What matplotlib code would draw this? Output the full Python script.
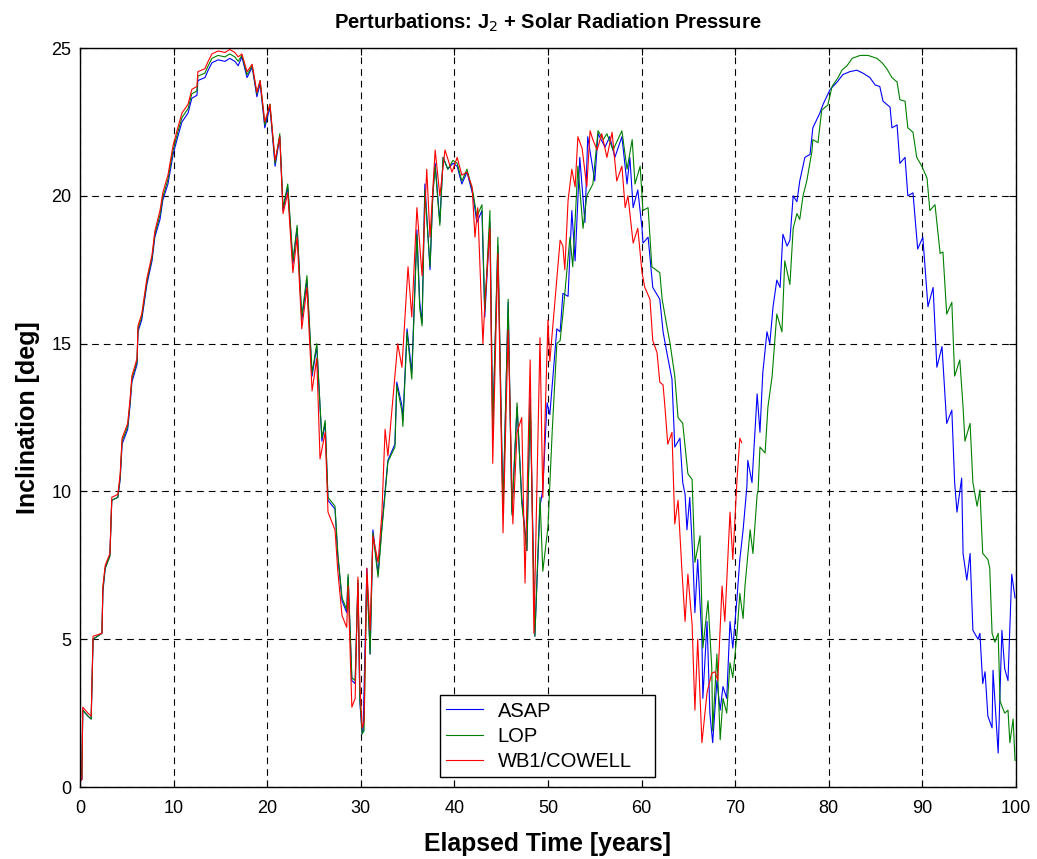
import matplotlib
matplotlib.use("Agg")
import matplotlib.pyplot as plt

# ASAP (blue) - elapsed years / inclination deg
t_asap = [0.0, 0.2, 0.3, 0.85, 1.2, 1.4, 2.35, 2.45, 2.7, 3.2, 3.4, 4.05, 4.3, 4.5, 5.1, 5.35, 5.55, 6.1, 6.2, 6.6,
          7.15, 7.7, 8.0, 8.55, 8.85, 9.4, 9.95, 10.45, 10.9, 11.55, 11.95, 12.5, 12.6, 13.35, 13.7, 14.1, 14.75, 15.5,
          16.0, 16.55, 16.9, 17.3, 17.85, 18.4, 18.9, 19.25, 19.75, 20.3, 20.85, 21.35, 21.7, 22.2, 22.75, 23.2, 23.7,
          24.25, 24.8, 25.3, 25.65, 25.85, 26.2, 26.5, 27.25, 27.55, 28.0, 28.5, 28.65, 29.05, 29.4, 29.7, 29.9, 30.15,
          30.25, 30.65, 31.0, 31.3, 31.85, 32.25, 32.6, 32.9, 33.65, 33.85, 34.4, 34.5, 34.95, 35.45, 36.0, 36.3, 36.55,
          36.85, 37.4, 37.7, 37.95, 38.45, 38.8, 39.3, 39.85, 40.3, 40.8, 41.35, 42.0, 42.4, 42.95, 43.25, 43.8, 44.1,
          44.65, 45.2, 45.75, 46.15, 46.7, 47.2, 47.75, 48.1, 48.6, 49.15, 49.45, 49.9, 50.2, 50.95, 51.3, 51.6, 52.15,
          52.55, 52.9, 53.4, 53.95, 54.25, 55.0, 55.35, 56.1, 56.6, 57.15, 57.9, 58.45, 58.75, 59.1, 59.6, 60.05, 60.15,
          60.7, 61.2, 61.95, 62.3, 62.7, 63.25, 63.55, 64.1, 64.4, 64.65, 64.85, 65.15, 65.5, 65.7, 66.0, 66.45, 66.55,
          67.0, 67.3, 67.6, 68.05, 68.4, 68.7, 69.1, 69.45, 69.75, 70.2, 70.5, 70.85, 71.25, 71.35, 71.8, 72.35, 72.65,
          72.95, 73.4, 73.7, 74.05, 74.45, 74.8, 75.1, 75.55, 75.85, 76.2, 76.6, 76.9, 77.45, 78.0, 78.3, 79.05, 79.4,
          80.15, 80.9, 81.5, 82.25, 83.0, 83.65, 84.4, 84.95, 85.45, 85.8, 86.55, 86.75, 87.3, 87.6, 88.15, 88.45, 89.0,
          89.5, 90.05, 90.6, 91.15, 91.55, 92.1, 92.6, 93.15, 93.45, 93.7, 94.2, 94.35, 94.75, 95.1, 95.4, 95.95, 96.15,
          96.45, 96.7, 97.0, 97.45, 97.55, 98.1, 98.5, 98.8, 99.15, 99.55, 99.9]
i_asap = [0.2, 0.25, 2.6, 2.4, 2.3, 5.0, 5.2, 6.6, 7.4, 7.85, 9.7, 9.8, 10.4, 11.6, 12.1, 12.9, 13.7, 14.3, 15.4, 15.8,
          17.0, 17.8, 18.6, 19.2, 19.85, 20.4, 21.4, 22.0, 22.5, 22.8, 23.3, 23.4, 23.9, 24.0, 24.25, 24.5, 24.6, 24.55,
          24.65, 24.55, 24.4, 24.7, 24.0, 24.35, 23.35, 23.8, 22.3, 23.0, 21.0, 22.0, 19.5, 20.3, 17.7, 18.9, 15.8,
          17.15, 13.9, 14.9, 12.85, 11.7, 12.3, 9.7, 9.4, 7.8, 6.3, 5.9, 7.1, 3.6, 3.5, 6.9, 2.9, 1.8,
          1.9, 7.4, 4.5, 8.7, 7.2, 8.8, 10.0, 11.05, 11.6, 13.7, 12.9, 12.4, 15.5, 14.0, 18.85, 16.4, 15.7,
          20.4, 17.5, 20.1, 21.1, 19.1, 21.3, 20.9, 21.1, 21.0, 20.4, 20.8, 20.0, 19.1, 19.5, 15.9, 19.1, 12.1,
          18.3, 9.3, 16.4, 9.3, 12.85, 9.8, 8.0, 13.2, 5.1, 9.5, 10.05, 13.0, 12.6, 15.5, 15.4, 16.7, 16.6,
          19.5, 17.8, 21.3, 19.1, 22.0, 20.5, 22.1, 21.65, 22.0, 21.3, 22.0, 20.4, 21.3, 19.6, 20.2, 18.9, 18.4,
          18.6, 16.9, 16.5, 15.4, 14.7, 13.8, 11.5, 11.8, 10.3, 9.9, 8.7, 9.8, 7.6, 5.9, 7.7, 5.0, 3.0,
          5.6, 2.5, 1.5, 3.6, 2.6, 3.4, 3.0, 5.6, 4.7, 6.4, 7.7, 8.7, 10.15, 11.05, 10.3, 13.3, 12.0,
          14.0, 15.4, 15.0, 16.25, 17.15, 16.9, 18.7, 18.3, 18.5, 20.0, 19.8, 20.5, 21.3, 21.4, 22.3, 22.8, 23.1,
          23.6, 23.85, 24.1, 24.2, 24.25, 24.15, 24.0, 23.75, 23.7, 23.2, 23.0, 22.3, 22.4, 21.1, 21.3, 20.0, 20.1,
          18.2, 18.6, 16.25, 16.9, 14.2, 14.9, 12.3, 12.75, 10.3, 9.3, 10.45, 7.9, 7.0, 7.9, 5.3, 5.0, 5.2,
          3.5, 3.9, 2.4, 2.0, 3.95, 1.15, 5.3, 4.0, 3.6, 7.2, 6.4]

# LOP (green)
t_lop = [0.0, 0.2, 0.3, 0.85, 1.2, 1.4, 2.35, 2.45, 2.7, 3.2, 3.4, 4.05, 4.3, 4.5, 5.1, 5.35, 5.55, 6.1, 6.2, 6.6,
         7.15, 7.7, 8.0, 8.55, 8.85, 9.4, 9.95, 10.45, 10.9, 11.55, 11.95, 12.5, 12.6, 13.35, 13.7, 14.1, 14.75, 15.5,
         16.0, 16.55, 16.9, 17.3, 17.85, 18.4, 18.9, 19.25, 19.75, 20.3, 20.85, 21.35, 21.7, 22.2, 22.75, 23.2, 23.7,
         24.25, 24.8, 25.3, 25.65, 25.85, 26.2, 26.5, 27.25, 27.55, 28.0, 28.5, 28.65, 29.05, 29.4, 29.7, 29.9, 30.15,
         30.35, 30.65, 31.0, 31.3, 31.85, 32.25, 32.6, 32.9, 33.65, 33.85, 34.4, 34.5, 34.95, 35.45, 36.0, 36.3, 36.55,
         36.85, 37.4, 37.7, 37.95, 38.45, 38.8, 39.3, 39.85, 40.3, 40.8, 41.35, 42.0, 42.4, 42.95, 43.25, 43.8, 44.1,
         44.65, 45.2, 45.75, 46.15, 46.7, 47.2, 47.75, 48.1, 48.6, 49.15, 49.45, 50.0, 50.45, 50.95, 51.3, 51.6, 52.35,
         52.65, 53.2, 53.75, 54.15, 54.8, 55.35, 55.9, 56.3, 56.95, 57.9, 58.45, 59.0, 59.3, 59.85, 60.15, 60.7, 61.1,
         61.95, 62.2, 62.7, 63.05, 63.55, 63.9, 64.4, 64.95, 65.4, 65.7, 66.25, 66.55, 67.1, 67.5, 67.6, 68.05, 68.4,
         68.7, 69.1, 69.45, 69.75, 70.2, 70.5, 70.85, 71.05, 71.6, 71.9, 72.35, 72.45, 72.65, 73.2, 73.5, 73.95, 74.45,
         75.0, 75.3, 75.85, 76.2, 76.6, 76.9, 77.25, 77.65, 78.2, 78.3, 78.85, 79.25, 79.9, 80.35, 81.0, 81.4, 81.95,
         82.5, 83.35, 84.2, 85.15, 85.7, 86.2, 86.75, 87.3, 87.6, 88.15, 88.45, 89.0, 89.4, 89.95, 90.5, 90.8, 91.35,
         91.55, 91.9, 92.2, 92.6, 93.15, 93.45, 94.0, 94.35, 94.55, 95.1, 95.4, 95.85, 96.15, 96.45, 97.0, 97.2, 97.45,
         97.75, 98.1, 98.3, 98.8, 99.15, 99.35, 99.7, 99.9]
i_lop = [0.2, 0.25, 2.6, 2.4, 2.3, 5.0, 5.2, 6.7, 7.4, 7.8, 9.7, 9.8, 10.5, 11.7, 12.2, 13.0, 13.8, 14.4, 15.5, 15.9,
         17.1, 17.9, 18.7, 19.35, 19.95, 20.55, 21.55, 22.15, 22.65, 22.95, 23.45, 23.55, 24.05, 24.15, 24.4, 24.65,
         24.75, 24.7, 24.8, 24.7, 24.55, 24.75, 24.1, 24.4, 23.45, 23.9, 22.4, 23.1, 21.1, 22.1, 19.6, 20.4, 17.8, 19.0,
         15.9, 17.3, 14.0, 15.0, 12.9, 11.8, 12.4, 9.8, 9.5, 7.9, 6.4, 6.0, 7.2, 3.7, 3.6, 7.0, 3.0, 1.8,
         1.9, 7.2, 4.5, 8.6, 7.1, 8.7, 9.9, 11.0, 11.5, 13.6, 12.7, 12.2, 15.4, 13.8, 18.7, 16.2, 15.6,
         20.2, 17.6, 20.0, 21.0, 19.0, 21.3, 20.9, 21.2, 21.1, 20.5, 20.9, 20.1, 19.3, 19.7, 16.1, 19.5, 12.0,
         18.6, 9.3, 16.5, 9.2, 13.0, 9.6, 8.0, 13.0, 5.1, 9.8, 7.3, 8.8, 12.0, 15.0, 15.1, 16.0, 18.6,
         17.6, 21.0, 18.9, 20.0, 20.4, 22.2, 21.9, 22.1, 21.55, 22.2, 20.9, 21.9, 20.4, 21.0, 19.5, 19.6, 17.6,
         17.4, 16.5, 15.6, 15.0, 13.9, 12.5, 12.3, 10.6, 10.4, 7.6, 8.5, 4.7, 6.3, 4.05, 1.9, 4.5, 1.6,
         3.0, 2.5, 4.2, 3.7, 5.2, 6.55, 5.7, 6.8, 8.7, 7.9, 9.9, 10.0, 11.5, 11.3, 12.85, 13.9, 16.0,
         15.4, 17.8, 17.0, 18.9, 19.4, 19.2, 20.0, 20.5, 21.5, 21.9, 21.8, 22.9, 23.07, 23.7, 24.0, 24.25, 24.4,
         24.65, 24.75, 24.75, 24.65, 24.5, 24.3, 24.0, 23.85, 23.25, 23.2, 22.3, 22.15, 21.3, 21.0, 20.6, 19.5, 19.7,
         19.1, 18.05, 18.1, 16.0, 16.4, 13.9, 14.45, 12.85, 11.7, 12.3, 10.3, 9.5, 10.05, 7.9, 7.7, 7.4, 5.2,
         4.9, 5.2, 2.9, 2.5, 2.6, 1.5, 2.3, 0.9]

# WB1/COWELL (red), stops near 70 years
t_wb1 = [0.0, 0.2, 0.3, 0.85, 1.2, 1.4, 2.35, 2.45, 2.7, 3.2, 3.4, 4.05, 4.3, 4.5, 5.1, 5.35, 5.55, 6.1, 6.2, 6.6,
         7.15, 7.7, 8.0, 8.55, 8.85, 9.4, 9.95, 10.45, 10.9, 11.55, 11.95, 12.5, 12.6, 13.35, 13.7, 14.1, 14.75, 15.5,
         16.0, 16.55, 16.9, 17.3, 17.85, 18.4, 18.9, 19.25, 19.75, 20.3, 20.85, 21.35, 21.7, 22.2, 22.75, 23.2, 23.7,
         24.25, 24.8, 25.3, 25.65, 26.2, 26.5, 27.25, 27.55, 28.0, 28.5, 28.65, 29.05, 29.4, 29.7, 29.9, 30.15, 30.35,
         30.65, 31.0, 31.3, 31.85, 32.25, 32.6, 32.9, 33.95, 34.4, 35.05, 35.45, 36.0, 36.55, 37.05, 37.4, 37.95, 38.45,
         39.0, 39.75, 40.3, 40.8, 41.35, 41.9, 42.2, 42.5, 43.05, 43.25, 43.8, 44.1, 44.65, 45.2, 45.75, 46.25, 46.7,
         47.2, 47.55, 48.1, 48.5, 49.15, 49.45, 50.0, 50.2, 51.3, 51.6, 51.8, 52.15, 52.55, 52.9, 53.2, 53.65, 54.15,
         54.5, 54.8, 55.25, 55.75, 56.3, 56.85, 57.35, 57.9, 58.25, 58.55, 59.1, 59.6, 60.05, 60.35, 60.9, 61.2, 61.65,
         61.95, 62.3, 62.5, 62.8, 63.25, 63.55, 63.9, 64.3, 64.65, 64.95, 65.4, 65.7, 66.0, 66.45, 67.0, 67.5, 67.85,
         68.15, 68.6, 68.9, 69.45, 69.75, 70.2, 70.5, 70.7]
i_wb1 = [0.2, 0.25, 2.7, 2.5, 2.4, 5.1, 5.2, 6.8, 7.5, 7.9, 9.8, 9.9, 10.6, 11.8, 12.3, 13.1, 13.9, 14.5, 15.6, 16.0,
         17.2, 18.0, 18.8, 19.5, 20.1, 20.7, 21.7, 22.3, 22.8, 23.1, 23.6, 23.7, 24.2, 24.3, 24.55, 24.8, 24.9, 24.85,
         24.95, 24.85, 24.7, 24.8, 24.2, 24.45, 23.5, 23.9, 22.5, 23.1, 21.2, 22.0, 19.4, 20.1, 17.4, 18.6, 15.5,
         16.9, 13.4, 14.5, 11.1, 12.0, 9.3, 8.7, 7.3, 5.8, 5.4, 6.8, 2.7, 3.0, 7.1, 3.5, 2.0, 2.2,
         7.4, 5.3, 8.5, 7.6, 9.2, 12.1, 11.2, 15.0, 14.2, 17.6, 15.9, 19.6, 17.3, 20.9, 18.6, 21.55, 20.0,
         21.55, 20.8, 21.3, 20.7, 20.8, 20.3, 18.6, 19.6, 15.0, 16.3, 18.9, 10.95, 18.05, 8.6, 15.45, 8.9, 12.0,
         12.5, 6.9, 14.45, 5.2, 15.2, 9.8, 15.8, 14.4, 18.5, 18.3, 17.5, 19.85, 20.9, 20.3, 22.0, 21.6, 20.3,
         22.2, 21.9, 21.55, 22.1, 21.3, 22.15, 20.5, 21.0, 19.6, 20.0, 18.4, 18.9, 17.4, 16.9, 16.5, 15.1, 14.7,
         13.7, 13.6, 12.85, 11.6, 12.0, 8.9, 9.7, 7.4, 5.6, 7.2, 5.5, 2.6, 5.0, 1.5, 3.2, 3.85, 3.9,
         3.6, 6.8, 5.6, 9.3, 7.7, 10.4, 11.8, 11.65]

xticks = list(range(0, 101, 10))
yticks = list(range(0, 26, 5))


def main():
    plt.rcParams['font.family'] = ['Liberation Sans', 'DejaVu Sans']

    fig = plt.figure(figsize=(10.37, 8.59), dpi=100)
    ax = fig.add_axes([0.0771, 0.0838, 0.9026, 0.8603])

    ax.plot(t_asap, i_asap, color='#0000ff', lw=0.8, label='ASAP')
    ax.plot(t_lop, i_lop, color='#008000', lw=0.8, label='LOP')
    ax.plot(t_wb1, i_wb1, color='#ff0000', lw=0.8, label='WB1/COWELL')

    ax.set_xlim(0, 100)
    ax.set_ylim(0, 25)
    ax.set_xticks(xticks)
    ax.set_yticks(yticks)
    ax.grid(True, color='k', lw=0.8, dashes=(6, 4.5))
    ax.tick_params(direction='in', top=True, right=True, length=5, labelsize=13)
    ax.tick_params(axis='x', pad=9)
    ax.tick_params(axis='y', pad=6)
    for s in ax.spines.values():
        s.set_linewidth(1.0)

    ax.set_title('Perturbations: J$_2$ + Solar Radiation Pressure', fontsize=14.5, fontweight='bold', pad=14)
    ax.set_xlabel('Elapsed Time [years]', fontsize=17.8, fontweight='bold', labelpad=11)
    ax.set_ylabel('Inclination [deg]', fontsize=18, fontweight='bold', labelpad=8)

    leg = ax.legend(loc='lower left', bbox_to_anchor=(0.3846, 0.0135, 0.2297, 0.11), mode='expand',
                    fontsize=14.5, fancybox=False, edgecolor='k', framealpha=1, handlelength=1.8,
                    handletextpad=0.75, borderpad=0.32, labelspacing=0.3, borderaxespad=0)
    leg.get_frame().set_linewidth(1.0)

    fig.savefig('out.png', dpi=100)


if __name__ == '__main__':
    main()
